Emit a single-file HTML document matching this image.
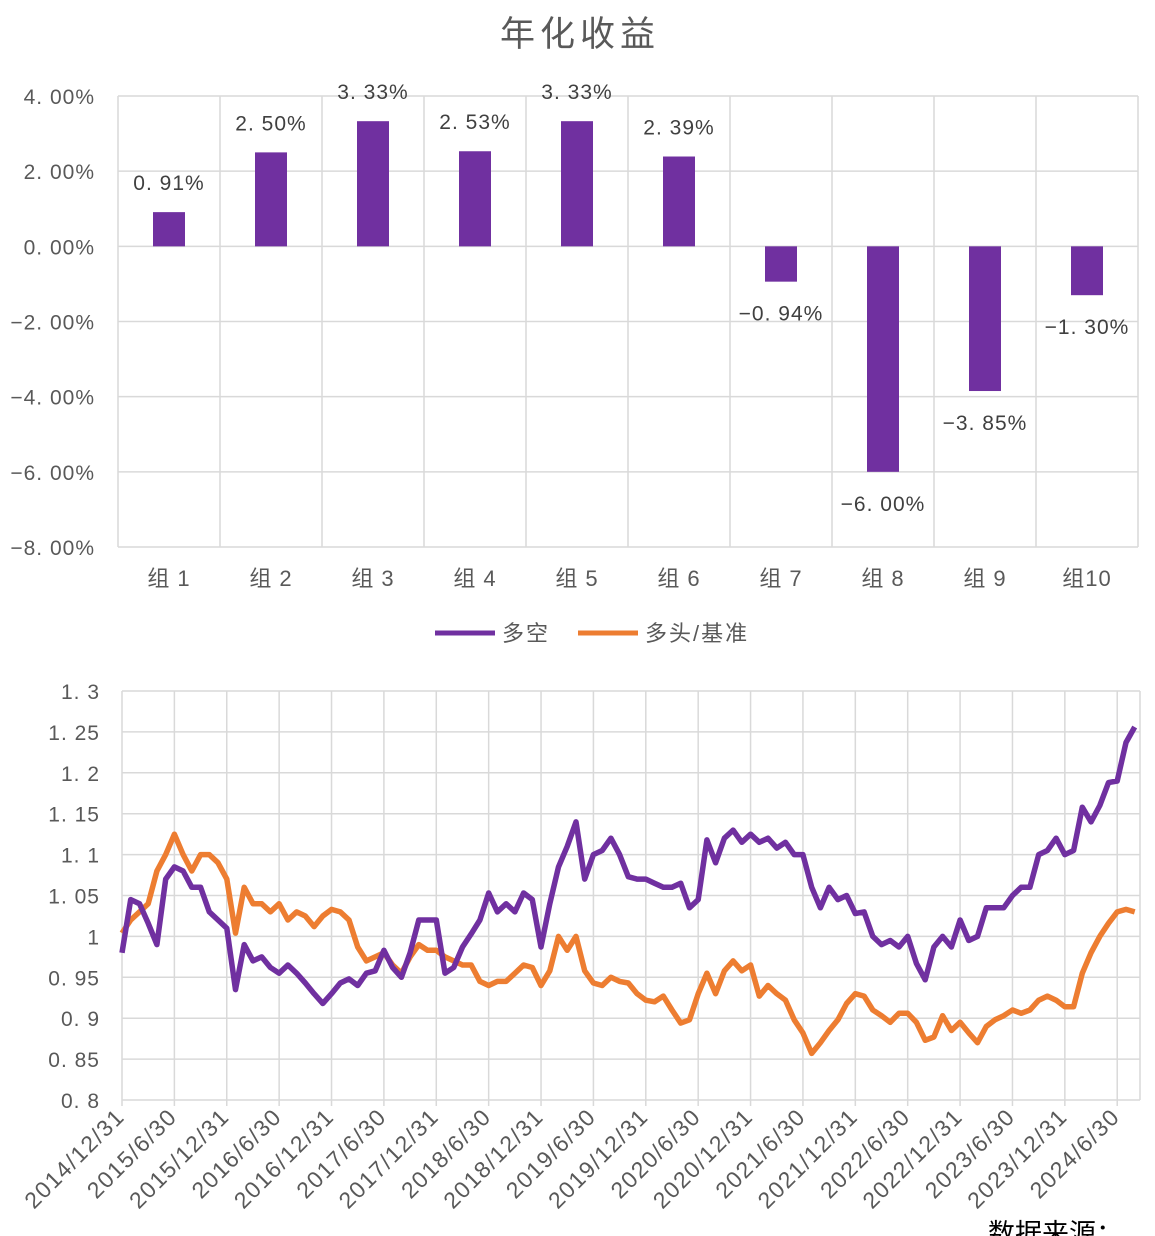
<!DOCTYPE html>
<html><head><meta charset="utf-8"><style>
body{margin:0;background:#fff;}
svg{display:block;font-family:"Liberation Sans","Noto Sans CJK SC",sans-serif;}
</style></head><body>
<svg id="c" width="1155" height="1236">
<text x="580" y="46" text-anchor="middle" font-size="35" fill="#595959" letter-spacing="5">年化收益</text>
<g id="bar"></g>
<g>
<line x1="435" y1="633" x2="495" y2="633" stroke="#7030A0" stroke-width="5"/>
<text x="502" y="641" font-size="22" fill="#595959" letter-spacing="2">多空</text>
<line x1="578" y1="633" x2="638" y2="633" stroke="#ED7D31" stroke-width="5"/>
<text x="645" y="641" font-size="22" fill="#595959" letter-spacing="2">多头/基准</text>
</g>
<g id="line"></g>
<text x="988" y="1243" font-size="27" fill="#000">数据来源：</text>
</svg>
<script>
const NS="http://www.w3.org/2000/svg";
const groups=["组 1","组 2","组 3","组 4","组 5","组 6","组 7","组 8","组 9","组10"];
const barValues=[0.91,2.50,3.33,2.53,3.33,2.39,-0.94,-6.00,-3.85,-1.30];
const barTicks=[4,2,0,-2,-4,-6,-8];

const dateLabels=["2014/12/31","2015/6/30","2015/12/31","2016/6/30","2016/12/31","2017/6/30","2017/12/31","2018/6/30","2018/12/31","2019/6/30","2019/12/31","2020/6/30","2020/12/31","2021/6/30","2021/12/31","2022/6/30","2022/12/31","2023/6/30","2023/12/31","2024/6/30"];
const lineTicks=[1.3,1.25,1.2,1.15,1.1,1.05,1,0.95,0.9,0.85,0.8];
const longShort=[0.98,1.045,1.04,1.016,0.99,1.07,1.085,1.08,1.06,1.06,1.03,1.02,1.01,0.935,0.99,0.97,0.975,0.962,0.955,0.965,0.955,0.943,0.93,0.918,0.93,0.943,0.948,0.94,0.955,0.958,0.983,0.962,0.95,0.98,1.02,1.02,1.02,0.955,0.962,0.987,1.003,1.02,1.053,1.03,1.04,1.03,1.053,1.045,0.987,1.04,1.085,1.11,1.14,1.07,1.1,1.105,1.12,1.1,1.073,1.07,1.07,1.065,1.06,1.06,1.065,1.035,1.045,1.118,1.09,1.12,1.13,1.115,1.125,1.115,1.12,1.108,1.115,1.1,1.1,1.06,1.035,1.06,1.045,1.05,1.028,1.03,1.0,0.99,0.995,0.987,1.0,0.967,0.947,0.987,1.0,0.987,1.02,0.995,1.0,1.035,1.035,1.035,1.05,1.06,1.06,1.1,1.105,1.12,1.1,1.105,1.158,1.14,1.16,1.188,1.19,1.237,1.256];
const longBench=[1.004,1.02,1.03,1.04,1.08,1.1,1.125,1.1,1.08,1.1,1.1,1.09,1.07,1.004,1.06,1.04,1.04,1.03,1.04,1.02,1.03,1.025,1.012,1.025,1.033,1.03,1.02,0.987,0.97,0.975,0.98,0.965,0.955,0.975,0.99,0.983,0.983,0.975,0.97,0.965,0.965,0.945,0.94,0.945,0.945,0.955,0.965,0.962,0.94,0.958,1.0,0.983,1.0,0.958,0.943,0.94,0.95,0.945,0.943,0.93,0.922,0.92,0.927,0.91,0.894,0.898,0.93,0.955,0.93,0.958,0.97,0.958,0.965,0.927,0.94,0.93,0.922,0.898,0.882,0.857,0.87,0.885,0.898,0.918,0.93,0.927,0.91,0.903,0.895,0.906,0.906,0.895,0.873,0.877,0.903,0.885,0.895,0.882,0.87,0.89,0.898,0.903,0.91,0.906,0.91,0.922,0.927,0.922,0.914,0.914,0.955,0.98,1.0,1.016,1.03,1.033,1.03];

function mk(tag,attrs,parent,text){const e=document.createElementNS(NS,tag);for(const k in attrs)e.setAttribute(k,attrs[k]);if(text!==undefined)e.textContent=text;parent.appendChild(e);return e;}

// Bar chart
const bg=document.getElementById('bar');
const bL=118,bR=1138,bT=96,bB=547;
const by=v=>bT+(4-v)/12*(bB-bT);
const bw=(bR-bL)/groups.length;
barTicks.forEach(t=>{
  const gl=mk('line',{x1:bL,x2:bR,y1:by(t),y2:by(t),stroke:'#d9d9d9','stroke-width':1.5},bg);
  
  
  const lb=mk('text',{x:95,y:by(t)+8,'text-anchor':'end','font-size':21,fill:'#595959','letter-spacing':1},bg,(t<0?'−':'')+Math.abs(t).toFixed(2).replace('.','. ')+'%');
  
  
});
for(let i=0;i<=groups.length;i++){
  const vl=mk('line',{x1:bL+i*bw,x2:bL+i*bw,y1:bT,y2:bB,stroke:'#d9d9d9','stroke-width':1.5},bg);
  
  
}
groups.forEach((g,i)=>{
  const cx=bL+bw*(i+0.5),v=barValues[i];
  const y0=by(0),y1=by(v);
  const r=mk('rect',{x:cx-16,y:Math.min(y0,y1),width:32,height:Math.abs(y1-y0),fill:'#7030A0'},bg);
  
  
  const ly=v>=0?y1-22:y1+39;
  const s=(v<0?'−':'')+Math.abs(v).toFixed(2).replace('.','. ')+'%';
  const t=mk('text',{x:cx,y:ly,'text-anchor':'middle','font-size':21,fill:'#404040','letter-spacing':1},bg,s);
  
  
  const c=mk('text',{x:cx,y:586,'text-anchor':'middle','font-size':22,fill:'#595959','letter-spacing':1},bg,g.replace(' ','  '));
  
  
});

// Line chart
const lg=document.getElementById('line');
const lL=122,lR=1140,lT=691,lB=1100,perM=8.73;
const ly2=v=>lT+(1.3-v)/0.5*(lB-lT);
const lx=m=>lL+m*perM;
lineTicks.forEach(t=>{
  const gl=mk('line',{x1:lL,x2:lR,y1:ly2(t),y2:ly2(t),stroke:'#d9d9d9','stroke-width':1.5},lg);
  
  
  const lb=mk('text',{x:100,y:ly2(t)+8,'text-anchor':'end','font-size':21,fill:'#595959','letter-spacing':1},lg,String(t).replace('.','. '));
  
  
});
dateLabels.forEach((d,i)=>{
  const x=lx(i*6);
  const vl=mk('line',{x1:x,x2:x,y1:lT,y2:lB+6,stroke:'#d9d9d9','stroke-width':1.5},lg);
  
  
  const t=mk('text',{x:x+4,y:lB+18,'text-anchor':'end','font-size':23,fill:'#595959','letter-spacing':1.5,transform:`rotate(-45 ${x+4} ${lB+18})`},lg,d);
  
  
});
mk('line',{x1:lR,x2:lR,y1:lT,y2:lB,stroke:'#d9d9d9','stroke-width':1.5},lg);
function path(arr){return arr.map((v,i)=>(i?'L':'M')+lx(i).toFixed(1)+' '+ly2(v).toFixed(1)).join(' ');}
const p2=mk('path',{d:path(longBench),fill:'none',stroke:'#ED7D31','stroke-width':5.5,'stroke-linejoin':'round'},lg);


const p1=mk('path',{d:path(longShort),fill:'none',stroke:'#7030A0','stroke-width':5.5,'stroke-linejoin':'round'},lg);


</script>
</body></html>
